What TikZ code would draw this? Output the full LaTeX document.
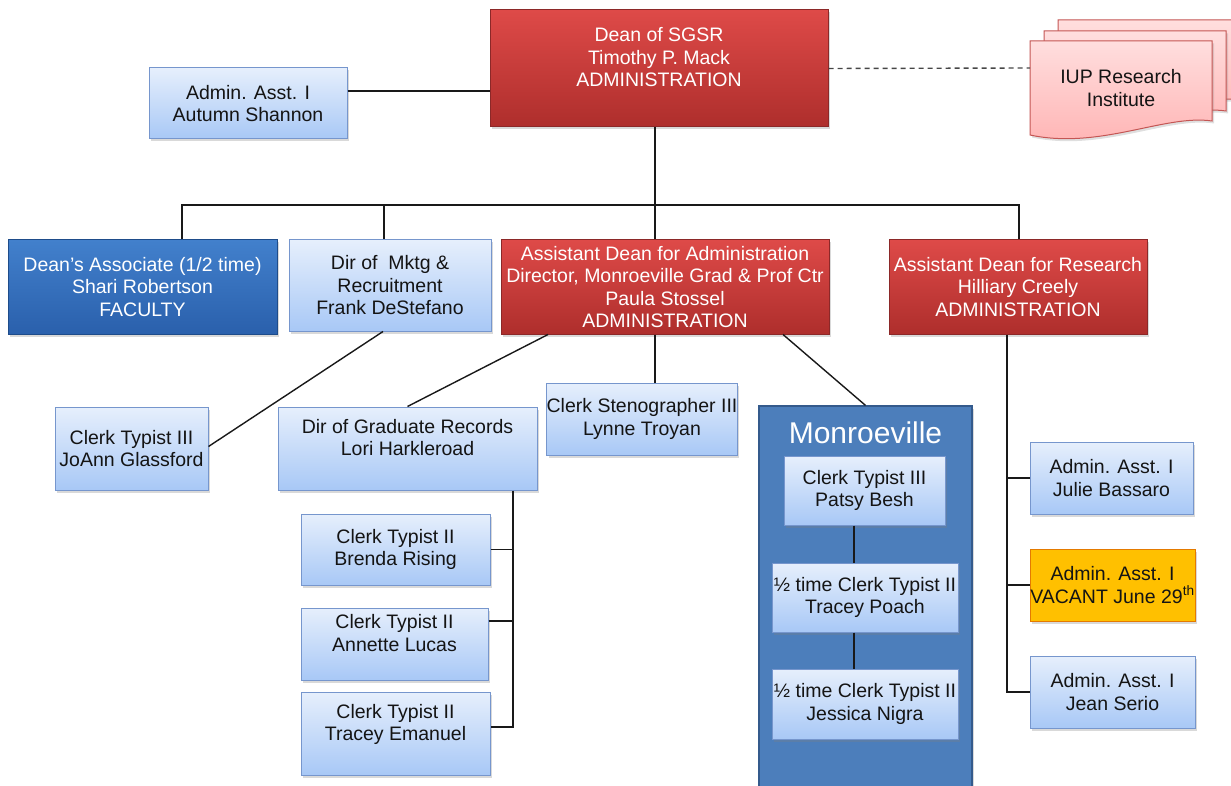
\documentclass[tikz,border=0pt]{standalone}
\usepackage{fontspec}
\setmainfont{Liberation Sans}
\usetikzlibrary{shadows}
\definecolor{lbTop}{RGB}{230,239,252}
\definecolor{lbBot}{RGB}{168,200,246}
\definecolor{lbLine}{RGB}{118,150,205}
\definecolor{rdTop}{RGB}{222,74,72}
\definecolor{rdBot}{RGB}{174,46,44}
\definecolor{rdLine}{RGB}{140,40,40}
\definecolor{buTop}{RGB}{66,128,204}
\definecolor{buBot}{RGB}{42,96,172}
\definecolor{buLine}{RGB}{30,76,138}
\definecolor{orFill}{RGB}{255,192,0}
\definecolor{orLine}{RGB}{228,122,0}
\definecolor{moFill}{RGB}{76,126,187}
\definecolor{moLine}{RGB}{52,90,140}
\definecolor{pkTop}{RGB}{255,222,222}
\definecolor{pkBot}{RGB}{255,178,178}
\definecolor{pkLine}{RGB}{196,86,84}
\definecolor{txtDark}{RGB}{20,20,20}
\definecolor{lnCol}{RGB}{25,25,25}
\definecolor{dashCol}{RGB}{70,70,70}
\begin{document}
\begin{tikzpicture}[x=1pt,y=-1pt,
  base/.style={draw, line width=1pt, align=center, inner sep=0pt,
    font=\fontsize{19.5}{22.5}\selectfont,
    drop shadow={shadow xshift=2pt,shadow yshift=-2.5pt,opacity=0.3}},
  wh/.style 2 args={minimum width=#1pt, minimum height=#2pt},
  lightbox/.style={base, top color=lbTop, bottom color=lbBot, draw=lbLine, text=txtDark},
  redbox/.style={base, top color=rdTop, bottom color=rdBot, draw=rdLine, text=white},
  bluebox/.style={base, top color=buTop, bottom color=buBot, draw=buLine, text=white},
  orangebox/.style={base, fill=orFill, draw=orLine, text=txtDark},
  conn/.style={line width=1.4pt, draw=lnCol},
  dashconn/.style={line width=1.4pt, draw=dashCol, dash pattern=on 5pt off 4pt},
  docshape/.style={top color=pkTop, bottom color=pkBot, draw=pkLine, line width=1pt,
    drop shadow={shadow xshift=2pt,shadow yshift=-2.5pt,opacity=0.25}}
]
\useasboundingbox (0,0) rectangle (1231,786);
\clip (0,0) rectangle (1231,786);

% IUP Research Institute (multi-document)
\foreach \dx/\dy in {28/-21,14/-10,0/0}{
  \path[docshape, shift={(\dx,\dy)}] (1030,41) -- (1212,41) -- (1212,121)
     .. controls (1165,114) and (1100,150) .. (1030,135) -- cycle;
}
\node[font=\fontsize{19.5}{22.5}\selectfont, align=center, text=txtDark] (iup) at (1121,88) {IUP Research\\Institute};
\coordinate (iupw) at (1030,68);

% Monroeville container
\node[draw=moLine, fill=moFill, line width=1.2pt, wh={213}{394}, inner sep=0pt,
   drop shadow={shadow xshift=2pt,shadow yshift=-2.5pt,opacity=0.3}] (monro) at (865.5,603) {};
\node[font=\fontsize{30}{34}\selectfont, text=white] (monrot) at (865.5,433) {Monroeville};

% Boxes
\node[redbox, wh={338}{117}] (dean) at (659,68.5) {Dean of SGSR\\Timothy P. Mack\\ADMINISTRATION\\\mbox{}};
\node[lightbox, wh={198}{71}] (autumn) at (248,103.5) {Admin. Asst. I\\Autumn Shannon};
\node[bluebox, wh={269}{94}] (assoc) at (142.5,287) {Dean’s Associate (1/2 time)\\Shari Robertson\\FACULTY};
\node[lightbox, wh={202}{91}] (mktg) at (390,285.5) {Dir of\ \ Mktg \&\\Recruitment\\Frank DeStefano};
\node[redbox, wh={328}{94}] (admin) at (665,287) {Assistant Dean for Administration\\Director, Monroeville Grad \& Prof Ctr\\Paula Stossel\\ADMINISTRATION};
\node[redbox, wh={258}{94}] (research) at (1018,287) {Assistant Dean for Research\\Hilliary Creely\\ADMINISTRATION};
\node[lightbox, wh={153}{83}] (joann) at (131.5,448.5) {Clerk Typist III\\JoAnn Glassford};
\node[lightbox, wh={259}{83}] (records) at (407.5,448.5) {Dir of Graduate Records\\Lori Harkleroad\\\mbox{}};
\node[lightbox, wh={190}{72}] (steno) at (642,419) {Clerk Stenographer III\\Lynne Troyan};
\node[lightbox, wh={189}{71}] (brenda) at (395.5,549.5) {Clerk Typist II\\Brenda Rising};
\node[lightbox, wh={187}{72}] (annette) at (394.5,644) {Clerk Typist II\\Annette Lucas\\\mbox{}};
\node[lightbox, wh={189}{83}] (emanuel) at (395.5,733.5) {Clerk Typist II\\Tracey Emanuel\\\mbox{}};
\node[lightbox, wh={161}{69}] (patsy) at (864.5,490.5) {Clerk Typist III\\Patsy Besh};
\node[lightbox, wh={186}{69}] (poach) at (865,597.5) {½ time Clerk Typist II\\Tracey Poach};
\node[lightbox, wh={186}{70}] (nigra) at (865,704) {½ time Clerk Typist II\\Jessica Nigra};
\node[lightbox, wh={163}{72}] (julie) at (1111.5,478) {Admin. Asst. I\\Julie Bassaro};
\node[orangebox, wh={165}{72}] (vacant) at (1112.5,585) {Admin. Asst. I\\VACANT June 29\textsuperscript{th}};
\node[lightbox, wh={165}{72}] (serio) at (1112.5,692) {Admin. Asst. I\\Jean Serio};

% helper coordinates
\coordinate (bl) at (182,205);
\coordinate (bm) at (384,205);
\coordinate (b0) at (655,205);
\coordinate (br) at (1019,205);
\coordinate (ay) at (0,91);
\coordinate (rv) at (513,0);
\coordinate (sv) at (1007,0);
\coordinate (mv) at (854,0);

% Connectors
\draw[dashconn] (dean.east) -- (iupw);
\draw[conn] (autumn.east |- ay) -- (dean.west |- ay);
\draw[conn] (dean.south -| b0) -- (b0);
\draw[conn] (assoc.north -| bl) -- (bl) -- (br) -- (research.north -| br);
\draw[conn] (bm) -- (mktg.north -| bm);
\draw[conn] (b0) -- (admin.north -| b0);
\draw[conn] ([xshift=-7pt]mktg.south) -- ([yshift=2pt]joann.east);
\draw[conn] ([xshift=-117pt]admin.south) -- (records.north);
\draw[conn] (admin.south -| b0) -- (steno.north -| b0);
\draw[conn] ([xshift=118pt]admin.south) -- (monro.north);
\draw[conn] (records.south -| rv) |- ([yshift=6.5pt]emanuel.east);
\draw[conn] (brenda.east) -- (brenda.east -| rv);
\draw[conn] ([yshift=23pt]annette.east) -- ([yshift=23pt]annette.east -| rv);
\draw[conn] (research.south -| sv) |- (serio.west);
\draw[conn] (julie.west -| sv) -- (julie.west);
\draw[conn] (vacant.west -| sv) -- (vacant.west);
\draw[conn] (patsy.south -| mv) -- (poach.north -| mv);
\draw[conn] (poach.south -| mv) -- (nigra.north -| mv);
\end{tikzpicture}
\end{document}
